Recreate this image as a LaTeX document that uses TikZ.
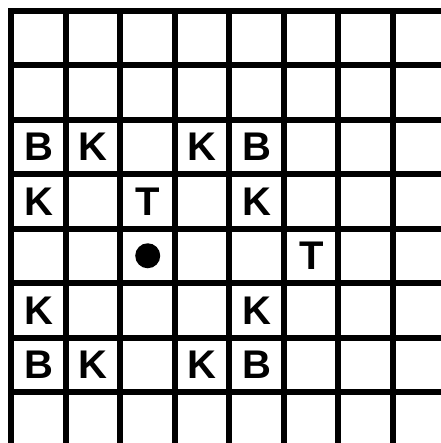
\documentclass[tikz,border=0pt]{standalone}
\usepackage{fontspec}
\setsansfont{Liberation Sans}

\begin{document}
\begin{tikzpicture}[x=54.5pt, y=-54.5pt,
		gridline/.style={line width=6pt, line cap=rect},
		piece/.style={font=\sffamily\bfseries\fontsize{40}{40}\selectfont, inner sep=0pt}]
		\useasboundingbox (-0.211,-0.193) rectangle (7.881,7.936);
		\clip (-0.211,-0.193) rectangle (7.881,7.936);
		% board
		\foreach \i in {0,...,7} {
			\draw[gridline] (\i,0) -- (\i,9);
			\draw[gridline] (0,\i) -- (9,\i);
		}
		% pieces
		\node[piece] (B1) at (0.5,2.5) {B};
		\node[piece] (K1) at (1.5,2.5) {K};
		\node[piece] (K2) at (3.5,2.5) {K};
		\node[piece] (B2) at (4.5,2.5) {B};
		\node[piece] (K3) at (0.5,3.5) {K};
		\node[piece] (T1) at (2.5,3.5) {T};
		\node[piece] (K4) at (4.5,3.5) {K};
		\node[circle, fill, inner sep=0pt, minimum size=25pt] (dot) at (2.5,4.5) {};
		\node[piece] (T2) at (5.5,4.5) {T};
		\node[piece] (K5) at (0.5,5.5) {K};
		\node[piece] (K6) at (4.5,5.5) {K};
		\node[piece] (B3) at (0.5,6.5) {B};
		\node[piece] (K7) at (1.5,6.5) {K};
		\node[piece] (K8) at (3.5,6.5) {K};
		\node[piece] (B4) at (4.5,6.5) {B};
	\end{tikzpicture}
\end{document}
